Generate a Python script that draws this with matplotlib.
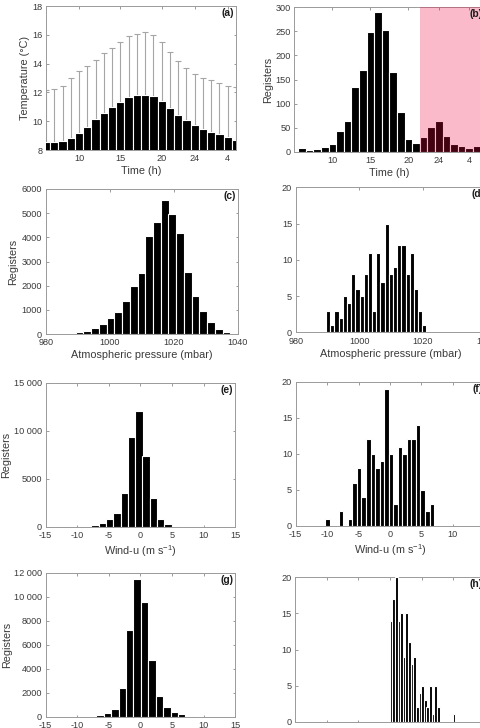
import matplotlib
matplotlib.use('Agg')
import matplotlib.pyplot as plt
import numpy as np

plt.rcParams['font.family'] = ['Liberation Sans', 'DejaVu Sans']
plt.rcParams['axes.unicode_minus'] = False
plt.rcParams['mathtext.default'] = 'regular'

# ---------------- data ----------------
# (a) mean temperature per hour with upper error (mean + sd)
hours = [6, 7, 8, 9, 10, 11, 12, 13, 14, 15, 16, 17, 18, 19, 20, 21, 22, 23, 24, 25, 26, 27, 28, 29]
temp_mean = [8.58, 8.58, 8.60, 8.80, 9.18, 9.62, 10.12, 10.58, 11.00, 11.33, 11.66, 11.82, 11.85,
             11.74, 11.40, 10.90, 10.45, 10.06, 9.72, 9.48, 9.26, 9.08, 8.90, 8.72]
temp_upper = [12.20, 12.27, 12.46, 13.00, 13.47, 13.84, 14.28, 14.74, 15.11, 15.50, 15.90, 16.08, 16.17,
              15.98, 15.48, 14.81, 14.18, 13.72, 13.31, 13.03, 12.85, 12.66, 12.47, 12.39]
hour_ticks = [10, 15, 20, 24, 28]
hour_labels = ['10', '15', '20', '24', '4']

# (b) registers per hour
hour_counts = [7, 4, 5, 10, 15, 44, 64, 135, 170, 249, 290, 252, 166, 83, 26, 19, 30, 52, 64, 32, 16, 12, 7, 12]
night_start = 21.5
night_end = 30

# (c) atmospheric pressure histogram (all)
pres_all_centers = [985.77, 988.19, 990.60, 993.02, 995.43, 997.85, 1000.26, 1002.68, 1005.09, 1007.51, 1009.92,
                    1012.34, 1014.75, 1017.17, 1019.58, 1022.00, 1024.41, 1026.83, 1029.24, 1031.66, 1034.07, 1036.49]
pres_all_counts = [0, 0, 100, 140, 235, 400, 650, 900, 1380, 2000, 2520, 4070, 4650, 5545, 4965, 4190, 2580,
                   1590, 965, 480, 190, 70]

# (d) atmospheric pressure histogram (subset)
pres_sub_centers = [990.20, 991.51, 992.83, 994.14, 995.46, 996.77, 998.08, 999.40, 1000.71, 1002.03, 1003.34,
                    1004.65, 1005.97, 1007.28, 1008.60, 1009.91, 1011.22, 1012.54, 1013.85, 1015.17, 1016.48,
                    1017.79, 1019.11, 1020.42]
pres_sub_counts = [3, 1, 3, 2, 5, 4, 8, 6, 5, 8, 11, 3, 11, 7, 15, 8, 9, 12, 12, 8, 11, 6, 3, 1]

# (e) wind-u histogram (all)
wu_all_centers = [-11.80, -10.65, -9.49, -8.34, -7.18, -6.03, -4.87, -3.72, -2.56, -1.41, -0.25, 0.90, 2.06,
                  3.21, 4.37, 5.52, 6.68, 7.83, 8.99, 10.14]
wu_all_counts = [0, 0, 0, 20, 200, 380, 760, 1390, 3540, 9300, 12080, 7400, 3020, 800, 280, 30, 0, 0, 0, 0]

# (f) wind-u histogram (subset)
wu_sub_centers = [-9.95, -9.23, -8.50, -7.78, -7.06, -6.34, -5.62, -4.90, -4.17, -3.45, -2.73, -2.00, -1.28,
                  -0.56, 0.16, 0.88, 1.60, 2.33, 3.05, 3.77, 4.49, 5.21, 5.94, 6.66]
wu_sub_counts = [1, 0, 0, 2, 0, 1, 6, 8, 4, 12, 10, 8, 9, 19, 10, 3, 11, 10, 12, 12, 14, 5, 2, 3]

# (g) wind-v histogram (all)
wv_all_centers = [-11.10, -9.92, -8.75, -7.57, -6.40, -5.22, -4.04, -2.87, -1.69, -0.52, 0.66, 1.84, 3.01,
                  4.19, 5.36, 6.54, 7.72, 8.89, 10.07, 11.24]
wv_all_counts = [0, 0, 0, 0, 140, 280, 610, 2390, 7220, 11470, 9580, 4720, 1750, 830, 420, 220, 100, 0, 0, 0]

# (h) wind-v histogram (subset)
wv_sub_centers = [0.16, 0.58, 0.99, 1.41, 1.82, 2.24, 2.65, 3.07, 3.48, 3.90, 4.31, 4.73, 5.14, 5.56, 5.97,
                  6.39, 6.80, 7.22, 7.63, 8.05, 8.46, 8.88, 9.29, 9.71, 10.12]
wv_sub_counts = [14, 17, 20, 14, 15, 9, 15, 11, 8, 9, 2, 4, 5, 3, 2, 5, 1, 5, 2, 0, 0, 0, 0, 0, 1]

# ---------------- figure ----------------
W, H = 480, 728
fig = plt.figure(figsize=(W / 100, H / 100), dpi=100)

TXT = '#3a3a3a'
FS = 6.6      # tick labels
LFS = 7.8     # axis labels
PFS = 7.4     # panel letters


def add_ax(left, top, bottom, width):
    return fig.add_axes([left / W, (H - bottom) / H, width / W, (bottom - top) / H])


def style(ax, label):
    for s in ax.spines.values():
        s.set_color('#9a9a9a')
        s.set_linewidth(0.7)
    ax.tick_params(direction='in', length=1.8, width=0.6, color='#8a8a8a', labelsize=FS,
                   labelcolor=TXT, top=True, right=True)
    ax.tick_params(axis='x', pad=3.2)
    ax.tick_params(axis='y', pad=2.5)
    ax.text(0.99, 0.985, label, transform=ax.transAxes, ha='right', va='top',
            fontsize=PFS, fontweight='bold', color='#1a1a1a', zorder=6)


def hist_bars(ax, centers, counts):
    c = np.asarray(centers)
    w = np.mean(np.diff(c))
    ax.bar(c, counts, width=w, color='black', edgecolor='white', linewidth=0.8, zorder=2.6)


# (a)
axa = add_ax(46, 6, 150, 190)
mean = np.asarray(temp_mean)
up = np.asarray(temp_upper) - mean
axa.errorbar(hours, mean, yerr=[np.zeros_like(up), up], fmt='none', ecolor='#a5a5a5',
             elinewidth=0.8, capsize=2.2, capthick=0.8, zorder=2)
axa.bar(hours, mean, width=1.0, color='black', edgecolor='white', linewidth=0.8, zorder=2.6)
axa.set_xlim(6, 29)
axa.set_ylim(8, 18)
axa.set_yticks(np.arange(8, 19, 2))
axa.set_xticks(hour_ticks)
axa.set_xticklabels(hour_labels)
axa.set_xlabel('Time (h)', fontsize=LFS, color=TXT, labelpad=2)
axa.set_ylabel('Temperature (°C)', fontsize=LFS, color=TXT, labelpad=1.5)
style(axa, '(a)')

# (b)
axb = add_ax(294.3, 7.3, 151.7, 190)
axb.bar(hours, hour_counts, width=1.0, color='black', edgecolor='white', linewidth=0.8, zorder=2.6)
axb.axvspan(night_start, night_end, color=(0.94, 0.03, 0.24), alpha=0.28, lw=0, zorder=2.8)
axb.set_xlim(5, 30)
axb.set_ylim(0, 300)
axb.set_yticks(np.arange(0, 301, 50))
axb.set_xticks(hour_ticks)
axb.set_xticklabels(hour_labels)
axb.set_xlabel('Time (h)', fontsize=LFS, color=TXT, labelpad=2)
axb.set_ylabel('Registers', fontsize=LFS, color=TXT, labelpad=1.5)
style(axb, '(b)')

# (c)
axc = add_ax(45.7, 189, 334, 192)
hist_bars(axc, pres_all_centers, pres_all_counts)
axc.set_xlim(980, 1040)
axc.set_ylim(0, 6000)
axc.set_xticks([980, 1000, 1020, 1040])
axc.set_yticks(np.arange(0, 6001, 1000))
axc.set_xlabel('Atmospheric pressure (mbar)', fontsize=LFS, color=TXT, labelpad=2)
axc.set_ylabel('Registers', fontsize=LFS, color=TXT, labelpad=2.5)
style(axc, '(c)')

# (d)
axd = add_ax(295.7, 187.3, 332.3, 191)
hist_bars(axd, pres_sub_centers, pres_sub_counts)
axd.set_xlim(980, 1040)
axd.set_ylim(0, 20)
axd.set_xticks([980, 1000, 1020, 1040])
axd.set_yticks(np.arange(0, 21, 5))
axd.set_xlabel('Atmospheric pressure (mbar)', fontsize=LFS, color=TXT, labelpad=2)
style(axd, '(d)')

# (e)
axe = add_ax(45.7, 382.7, 526.7, 189.5)
hist_bars(axe, wu_all_centers, wu_all_counts)
axe.set_xlim(-15, 15)
axe.set_ylim(0, 15000)
axe.set_xticks(np.arange(-15, 16, 5))
axe.set_yticks([0, 5000, 10000, 15000])
axe.set_yticklabels(['0', '5000', '10 000', '15 000'])
axe.set_xlabel('Wind-u (m s$^{-1}$)', fontsize=LFS, color=TXT, labelpad=2)
axe.set_ylabel('Registers', fontsize=LFS, color=TXT, labelpad=2.5)
style(axe, '(e)')

# (f)
axf = add_ax(295.7, 381.7, 525.7, 188.5)
hist_bars(axf, wu_sub_centers, wu_sub_counts)
axf.set_xlim(-15, 15)
axf.set_ylim(0, 20)
axf.set_xticks(np.arange(-15, 16, 5))
axf.set_yticks(np.arange(0, 21, 5))
axf.set_xlabel('Wind-u (m s$^{-1}$)', fontsize=LFS, color=TXT, labelpad=2)
style(axf, '(f)')

# (g)
axg = add_ax(45.7, 572.7, 716.7, 189.5)
hist_bars(axg, wv_all_centers, wv_all_counts)
axg.set_xlim(-15, 15)
axg.set_ylim(0, 12000)
axg.set_xticks(np.arange(-15, 16, 5))
axg.set_yticks(np.arange(0, 12001, 2000))
axg.set_yticklabels(['0', '2000', '4000', '6000', '8000', '10 000', '12 000'])
axg.set_ylabel('Registers', fontsize=LFS, color=TXT, labelpad=1.5)
style(axg, '(g)')

# (h)  (its x tick labels fall below the visible area in the reference)
axh = add_ax(295, 577.3, 721.7, 190)
hist_bars(axh, wv_sub_centers, wv_sub_counts)
axh.set_xlim(-15, 15)
axh.set_ylim(0, 20)
axh.set_xticks(np.arange(-15, 16, 5))
axh.set_xticklabels([])
axh.set_yticks(np.arange(0, 21, 5))
style(axh, '(h)')

fig.savefig('out.png', dpi=100)
